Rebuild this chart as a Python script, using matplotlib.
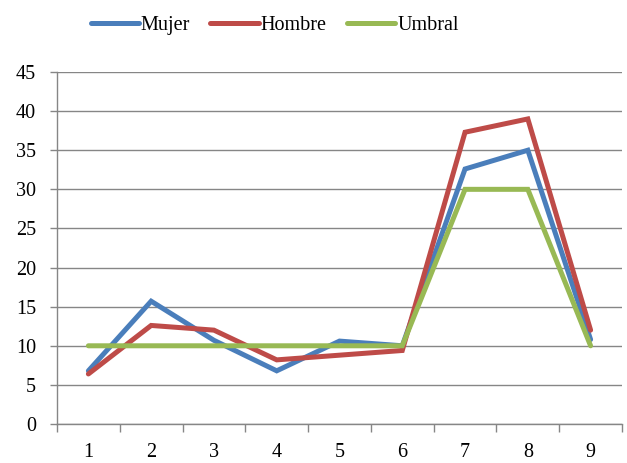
import numpy as np
import matplotlib
matplotlib.use("Agg")
import matplotlib.pyplot as plt

# Data
categories = [1, 2, 3, 4, 5, 6, 7, 8, 9]
mujer = [6.8, 15.7, 10.7, 6.8, 10.6, 10.0, 32.6, 35.0, 10.8]
hombre = [6.4, 12.6, 12.0, 8.2, 8.8, 9.4, 37.3, 39.0, 12.0]
umbral = [10, 10, 10, 10, 10, 10, 30, 30, 10]
series_names = ["Mujer", "Hombre", "Umbral"]
colors = ["#4A7EBB", "#BE4B48", "#98B954"]


def main():
    plt.rcParams['font.family'] = ['Liberation Serif', 'DejaVu Serif']
    fig = plt.figure(figsize=(6.27, 4.63), dpi=100)
    ax = fig.add_axes([0.0909, 0.0842, 0.9011, 0.7603])

    x = np.array(categories)
    for vals, name, c in zip([mujer, hombre, umbral], series_names, colors):
        ax.plot(x, vals, color=c, lw=3.6, label=name,
                solid_joinstyle='miter', solid_capstyle='round')

    ax.set_xlim(0.5, 9.5)
    ax.set_ylim(0, 45)
    ax.set_yticks(range(0, 46, 5))
    ax.yaxis.grid(True, color="#868686", lw=1)
    ax.set_axisbelow(True)

    # tick marks at category boundaries, labels at centres
    ax.set_xticks(np.arange(0.5, 10, 1))
    ax.set_xticklabels([])
    ax.set_xticks(x, minor=True)
    ax.set_xticklabels([str(c) for c in categories], minor=True)
    ax.tick_params(axis='x', which='major', length=6, color="#868686", width=1)
    ax.tick_params(axis='x', which='minor', length=0, pad=14, labelsize=14.5)
    ax.tick_params(axis='y', length=5, color="#868686", width=1, labelsize=14.5, pad=10)

    for s in ['top', 'right']:
        ax.spines[s].set_visible(False)
    for s in ['left', 'bottom']:
        ax.spines[s].set_color("#868686")
        ax.spines[s].set_linewidth(1)

    fig.legend(loc='upper center', bbox_to_anchor=(0.438, 1.005), ncol=3,
               frameon=False, fontsize=14.5, handlelength=2.4,
               handletextpad=0.1, columnspacing=1.0)

    fig.savefig("out.png", dpi=100)


if __name__ == "__main__":
    main()
